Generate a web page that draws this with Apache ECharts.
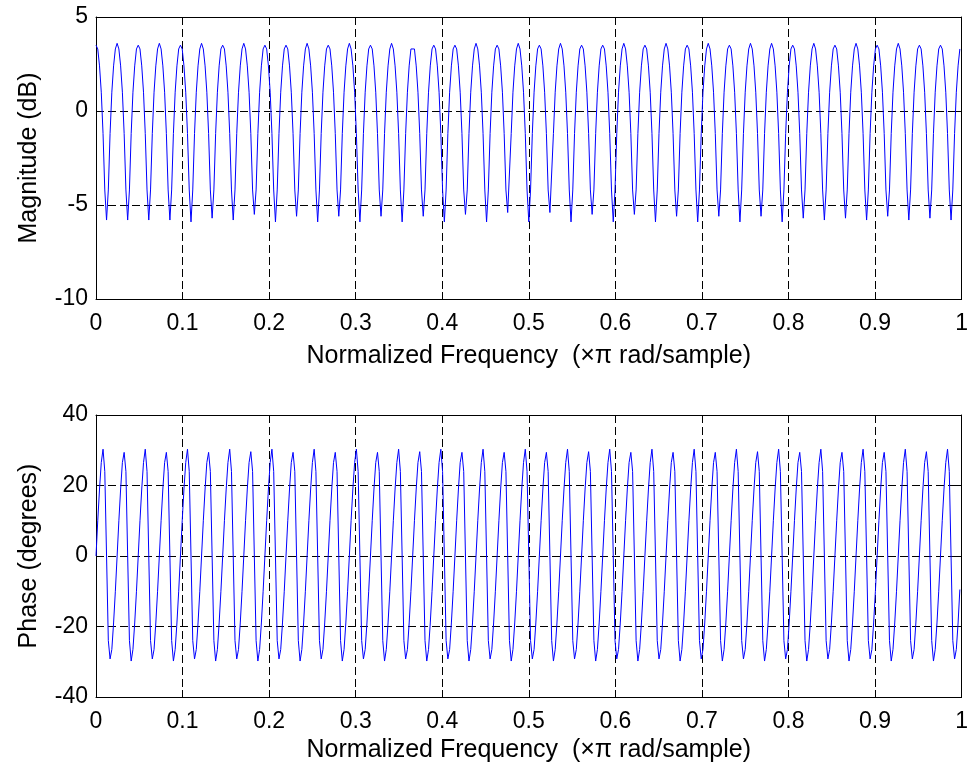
<!DOCTYPE html>
<html>
<head>
<meta charset="utf-8">
<title>freqz</title>
<script src="https://cdn.jsdelivr.net/npm/echarts@6/dist/echarts.min.js"></script>
<style>
    html, body { margin: 0; padding: 0; background: #fff; }
    #main { width: 971px; height: 769px; }
</style>
</head>
<body>
<div id="main"></div>
<script>
// ticks of the two plots
var freqTicks = [0, 0.1, 0.2, 0.3, 0.4, 0.5, 0.6, 0.7, 0.8, 0.9, 1];
var magTicks = [-10, -5, 0, 5];
var phaseTicks = [-40, -20, 0, 20, 40];

// magnitude (dB), one line = one ripple (12 samples)
var magDb = [
    3.5, 3.3, 2.4, 1.0, -1.2, -4.2, -5.8, -4.2, -1.2, 1.0, 2.4, 3.3,
    3.6, 3.3, 2.4, 1.0, -1.2, -4.2, -5.8, -4.2, -1.2, 1.0, 2.4, 3.3,
    3.5, 3.3, 2.4, 1.0, -1.2, -4.2, -5.8, -4.2, -1.2, 1.0, 2.4, 3.3,
    3.6, 3.3, 2.4, 1.0, -1.2, -4.2, -5.8, -4.2, -1.2, 1.0, 2.4, 3.3,
    3.5, 3.3, 2.4, 1.0, -1.2, -4.2, -5.9, -4.2, -1.2, 1.0, 2.4, 3.3,
    3.6, 3.3, 2.4, 1.0, -1.2, -4.2, -5.7, -4.2, -1.2, 1.0, 2.4, 3.3,
    3.5, 3.3, 2.4, 1.0, -1.2, -4.2, -5.8, -4.2, -1.2, 1.0, 2.4, 3.3,
    3.6, 3.3, 2.4, 1.0, -1.2, -4.2, -5.5, -4.2, -1.2, 1.0, 2.4, 3.3,
    3.5, 3.3, 2.4, 1.0, -1.2, -4.2, -5.9, -4.2, -1.2, 1.0, 2.4, 3.3,
    3.5, 3.3, 2.4, 1.0, -1.2, -4.2, -5.6, -4.2, -1.2, 1.0, 2.4, 3.3,
    3.6, 3.3, 2.4, 1.0, -1.2, -4.2, -5.9, -4.2, -1.2, 1.0, 2.4, 3.3,
    3.5, 3.3, 2.4, 1.0, -1.2, -4.2, -5.6, -4.2, -1.2, 1.0, 2.4, 3.3,
    3.6, 3.3, 2.4, 1.0, -1.2, -4.2, -5.9, -4.2, -1.2, 1.0, 2.4, 3.3,
    3.5, 3.3, 2.4, 1.0, -1.2, -4.2, -5.6, -4.2, -1.2, 1.0, 2.4, 3.3,
    3.6, 3.3, 2.4, 1.0, -1.2, -4.2, -5.9, -4.2, -1.2, 1.0, 2.4, 3.3,
    3.4, 3.3, 2.4, 1.0, -1.2, -4.2, -5.6, -4.2, -1.2, 1.0, 2.4, 3.3,
    3.5, 3.3, 2.4, 1.0, -1.2, -4.2, -5.9, -4.2, -1.2, 1.0, 2.4, 3.3,
    3.5, 3.3, 2.4, 1.0, -1.2, -4.2, -5.5, -4.2, -1.2, 1.0, 2.4, 3.3,
    3.6, 3.3, 2.4, 1.0, -1.2, -4.2, -5.9, -4.2, -1.2, 1.0, 2.4, 3.3,
    3.5, 3.3, 2.4, 1.0, -1.2, -4.2, -5.4, -5.4, -1.2, 1.0, 2.4, 3.3,
    3.6, 3.3, 2.4, 1.0, -1.2, -4.2, -5.9, -4.2, -1.2, 1.0, 2.4, 3.3,
    3.5, 3.3, 2.4, 1.0, -1.2, -4.2, -5.4, -5.4, -1.2, 1.0, 2.4, 3.3,
    3.6, 3.3, 2.4, 1.0, -1.2, -4.2, -5.9, -4.2, -1.2, 1.0, 2.4, 3.3,
    3.5, 3.3, 2.4, 1.0, -1.2, -4.2, -5.5, -4.2, -1.2, 1.0, 2.4, 3.3,
    3.5, 3.3, 2.4, 1.0, -1.2, -4.2, -5.9, -4.2, -1.2, 1.0, 2.4, 3.3,
    3.6, 3.3, 2.4, 1.0, -1.2, -4.2, -5.5, -4.2, -1.2, 1.0, 2.4, 3.3,
    3.5, 3.3, 2.4, 1.0, -1.2, -4.2, -5.9, -4.2, -1.2, 1.0, 2.4, 3.3,
    3.6, 3.3, 2.4, 1.0, -1.2, -4.2, -5.6, -4.2, -1.2, 1.0, 2.4, 3.3,
    3.5, 3.3, 2.4, 1.0, -1.2, -4.2, -5.9, -4.2, -1.2, 1.0, 2.4, 3.3,
    3.6, 3.3, 2.4, 1.0, -1.2, -4.2, -5.6, -4.2, -1.2, 1.0, 2.4, 3.3,
    3.5, 3.3, 2.4, 1.0, -1.2, -4.2, -5.9, -4.2, -1.2, 1.0, 2.4, 3.3,
    3.6, 3.3, 2.4, 1.0, -1.2, -4.2, -5.6, -4.2, -1.2, 1.0, 2.4, 3.3,
    3.6, 3.3, 2.4, 1.0, -1.2, -4.2, -5.9, -4.2, -1.2, 1.0, 2.4, 3.3,
    3.5, 3.3, 2.4, 1.0, -1.2, -4.2, -5.7, -4.2, -1.2, 1.0, 2.4, 3.3,
    3.6, 3.3, 2.4, 1.0, -1.2, -4.2, -5.8, -4.2, -1.2, 1.0, 2.4, 3.3,
    3.5, 3.3, 2.4, 1.0, -1.2, -4.2, -5.7, -4.2, -1.2, 1.0, 2.4, 3.3,
    3.6, 3.3, 2.4, 1.0, -1.2, -4.2, -5.8, -4.2, -1.2, 1.0, 2.4, 3.3,
    3.5, 3.3, 2.4, 1.0, -1.2, -4.2, -5.6, -4.2, -1.2, 1.0, 2.4, 3.3,
    3.6, 3.3, 2.4, 1.0, -1.2, -4.2, -5.8, -4.2, -1.2, 1.0, 2.4, 3.3,
    3.5, 3.3, 2.4, 1.0, -1.2, -4.2, -5.7, -4.2, -1.2, 1.0, 2.4, 3.3,
    3.5, 3.3, 2.4, 1.0, -1.2, -4.2, -5.8, -4.2, -1.2, 1.0, 2.4, 3.3
];

// phase (degrees), same samples
var phaseDeg = [
    0, 10, 19, 26.5, 30.3, 24, 0, -24, -29.2, -26.5, -19, -10,
    0, 10, 19, 26.5, 29.4, 24, 0, -24, -29.8, -26.5, -19, -10,
    0, 10, 19, 26.5, 30.3, 24, 0, -24, -29.2, -26.5, -19, -10,
    0, 10, 19, 26.5, 29.4, 24, 0, -24, -29.8, -26.5, -19, -10,
    0, 10, 19, 26.5, 30.3, 24, 0, -24, -29.2, -26.5, -19, -10,
    0, 10, 19, 26.5, 29.4, 24, 0, -24, -29.8, -26.5, -19, -10,
    0, 10, 19, 26.5, 30.3, 24, 0, -24, -29.2, -26.5, -19, -10,
    0, 10, 19, 26.5, 29.6, 24, 0, -24, -29.8, -26.5, -19, -10,
    0, 10, 19, 26.5, 30.3, 24, 0, -24, -29.2, -26.5, -19, -10,
    0, 10, 19, 26.5, 29.4, 24, 0, -24, -29.8, -26.5, -19, -10,
    0, 10, 19, 26.5, 30.3, 24, 0, -24, -29.2, -26.5, -19, -10,
    0, 10, 19, 26.5, 29.4, 24, 0, -24, -29.8, -26.5, -19, -10,
    0, 10, 19, 26.5, 30.3, 24, 0, -24, -29.2, -26.5, -19, -10,
    0, 10, 19, 26.5, 29.4, 24, 0, -24, -29.8, -26.5, -19, -10,
    0, 10, 19, 26.5, 30.3, 24, 0, -24, -29.2, -26.5, -19, -10,
    0, 10, 19, 26.5, 29.6, 24, 0, -24, -29.8, -26.5, -19, -10,
    0, 10, 19, 26.5, 30.3, 24, 0, -24, -29.2, -26.5, -19, -10,
    0, 10, 19, 26.5, 29.4, 24, 0, -24, -29.8, -26.5, -19, -10,
    0, 10, 19, 26.5, 30.3, 24, 0, -24, -29.2, -26.5, -19, -10,
    0, 10, 19, 26.5, 29.4, 24, 0, -24, -29.8, -26.5, -19, -10,
    0, 10, 19, 26.5, 30.3, 24, 0, -24, -29.2, -26.5, -19, -10,
    0, 10, 19, 26.5, 29.4, 24, 0, -24, -29.8, -26.5, -19, -10,
    0, 10, 19, 26.5, 30.3, 24, 0, -24, -29.2, -26.5, -19, -10,
    0, 10, 19, 26.5, 29.6, 24, 0, -24, -29.8, -26.5, -19, -10,
    0, 10, 19, 26.5, 30.3, 24, 0, -24, -29.2, -26.5, -19, -10,
    0, 10, 19, 26.5, 29.4, 24, 0, -24, -29.8, -26.5, -19, -10,
    0, 10, 19, 26.5, 30.3, 24, 0, -24, -29.2, -26.5, -19, -10,
    0, 10, 19, 26.5, 29.4, 24, 0, -24, -29.8, -26.5, -19, -10,
    0, 10, 19, 26.5, 30.3, 24, 0, -24, -29.2, -26.5, -19, -10,
    0, 10, 19, 26.5, 29.4, 24, 0, -24, -29.8, -26.5, -19, -10,
    0, 10, 19, 26.5, 30.3, 24, 0, -24, -29.2, -26.5, -19, -10,
    0, 10, 19, 26.5, 29.6, 24, 0, -24, -29.8, -26.5, -19, -10,
    0, 10, 19, 26.5, 30.3, 24, 0, -24, -29.2, -26.5, -19, -10,
    0, 10, 19, 26.5, 29.4, 24, 0, -24, -29.8, -26.5, -19, -10,
    0, 10, 19, 26.5, 30.3, 24, 0, -24, -29.2, -26.5, -19, -10,
    0, 10, 19, 26.5, 29.4, 24, 0, -24, -29.8, -26.5, -19, -10,
    0, 10, 19, 26.5, 30.3, 24, 0, -24, -29.2, -26.5, -19, -10,
    0, 10, 19, 26.5, 29.4, 24, 0, -24, -29.8, -26.5, -19, -10,
    0, 10, 19, 26.5, 30.3, 24, 0, -24, -29.2, -26.5, -19, -10,
    0, 10, 19, 26.5, 29.6, 24, 0, -24, -29.8, -26.5, -19, -10,
    0, 10, 19, 26.5, 30.3, 24, 0, -24, -29.2, -26.5, -19, -9.5
];

var xLabel = 'Normalized Frequency  (\u00d7\u03c0 rad/sample)';
var magLabel = 'Magnitude (dB)';
var phaseLabel = 'Phase (degrees)';

var freqzPlot = function () {
    var font = 'Liberation Sans, Arial, sans-serif';
    // sample grid of freqz: 0 .. pi, end point excluded
    var nSamples = magDb.length;
    var toPairs = function (arr) {
        return arr.map(function (v, i) { return [i / nSamples, v]; });
    };

    var dash = { color: '#000', width: 1, type: [8, 4] };
    var frame = { onZero: false, lineStyle: { color: '#000', width: 1 } };

    var xAxisBottom = function (grid, gap) {
        return {
            gridIndex: grid, type: 'value', position: 'bottom',
            min: freqTicks[0], max: freqTicks[freqTicks.length - 1], interval: 0.1,
            axisLine: frame,
            axisTick: { inside: true, length: 7, lineStyle: { color: '#000' } },
            axisLabel: { color: '#000', fontSize: 23, fontFamily: font, margin: 13 },
            splitLine: { show: true, lineStyle: dash },
            name: xLabel, nameLocation: 'middle', nameGap: gap,
            nameTextStyle: { color: '#000', fontSize: 25, fontFamily: font }
        };
    };
    var xAxisTop = function (grid) {
        return {
            gridIndex: grid, type: 'value', position: 'top',
            min: freqTicks[0], max: freqTicks[freqTicks.length - 1], interval: 0.1,
            axisLine: frame,
            axisTick: { inside: true, length: 7, lineStyle: { color: '#000' } },
            axisLabel: { show: false }, splitLine: { show: false }
        };
    };
    var yAxisLeft = function (grid, ticks, name) {
        return {
            gridIndex: grid, type: 'value', position: 'left',
            min: ticks[0], max: ticks[ticks.length - 1], interval: ticks[1] - ticks[0],
            axisLine: { show: true, onZero: false, lineStyle: { color: '#000', width: 1 } },
            axisTick: { show: true, inside: true, length: 7, lineStyle: { color: '#000' } },
            axisLabel: { color: '#000', fontSize: 23, fontFamily: font, margin: 8 },
            splitLine: { show: true, lineStyle: dash },
            name: name, nameLocation: 'middle', nameGap: 54, nameRotate: 90,
            nameTextStyle: { color: '#000', fontSize: 25, fontFamily: font }
        };
    };
    var yAxisRight = function (grid, ticks) {
        return {
            gridIndex: grid, type: 'value', position: 'right',
            min: ticks[0], max: ticks[ticks.length - 1], interval: ticks[1] - ticks[0],
            axisLine: { show: true, onZero: false, lineStyle: { color: '#000', width: 1 } },
            axisTick: { show: true, inside: true, length: 7, lineStyle: { color: '#000' } },
            axisLabel: { show: false }, splitLine: { show: false }
        };
    };

    var myChart = echarts.init(document.getElementById('main'), null, { renderer: 'canvas' });
    myChart.setOption({
        animation: false,
        backgroundColor: '#fff',
        grid: [
            { left: 96, top: 17, width: 866, height: 282 },
            { left: 96, top: 415, width: 866, height: 282 }
        ],
        xAxis: [xAxisBottom(0, 45), xAxisTop(0), xAxisBottom(1, 41), xAxisTop(1)],
        yAxis: [
            yAxisLeft(0, magTicks, magLabel), yAxisRight(0, magTicks),
            yAxisLeft(1, phaseTicks, phaseLabel), yAxisRight(1, phaseTicks)
        ],
        series: [{
            name: magLabel, type: 'line', xAxisIndex: 0, yAxisIndex: 0,
            showSymbol: false, silent: true,
            lineStyle: { color: '#0000ff', width: 1 },
            data: toPairs(magDb)
        }, {
            name: phaseLabel, type: 'line', xAxisIndex: 2, yAxisIndex: 2,
            showSymbol: false, silent: true,
            lineStyle: { color: '#0000ff', width: 1 },
            data: toPairs(phaseDeg)
        }]
    });
};

freqzPlot();
</script>
</body>
</html>
